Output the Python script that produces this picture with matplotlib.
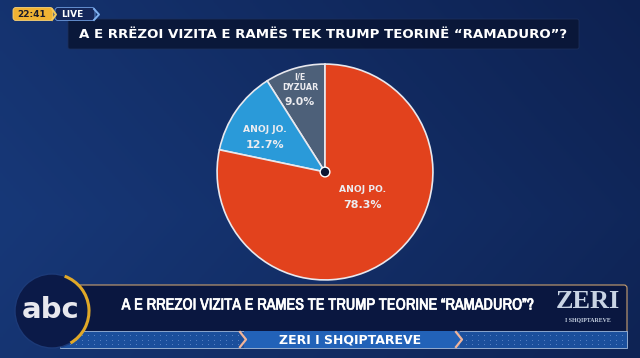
import matplotlib.pyplot as plt
import matplotlib.patches as mpatches
import matplotlib.patheffects as pe
from matplotlib import font_manager
import numpy as np

# poll results
categories = ["I/E\nDYZUAR", "ANOJ JO.", "ANOJ PO."]
values = [9.0, 12.7, 78.3]
colors = ["#4d6079", "#2a9ad9", "#e2421d"]

title = "A E RRËZOI VIZITA E RAMËS TEK TRUMP TEORINË “RAMADURO”?"
banner = "A E RREZOI VIZITA E RAMES TE TRUMP TEORINE “RAMADURO”?"
ticker = "ZERI I SHQIPTAREVE"

W, H = 640, 358
fig = plt.figure(figsize=(6.4, 3.58), dpi=100)

# background
bg = fig.add_axes([0, 0, 1, 1], zorder=0)
bg.set_xlim(0, W)
bg.set_ylim(H, 0)
bg.axis("off")
gx = np.linspace(0, 1, 200)
gy = np.linspace(0, 1, 120)
GX, GY = np.meshgrid(gx, gy)
t = np.clip(0.6 * GX + 0.3 * np.abs(GY - 0.6), 0, 1)
c0 = np.array([23, 56, 120]) / 255
c1 = np.array([11, 27, 70]) / 255
img = c0[None, None, :] * (1 - t[..., None]) + c1[None, None, :] * t[..., None]
bg.imshow(img, extent=[0, W, H, 0], aspect="auto")

# title box
bg.add_patch(mpatches.FancyBboxPatch((68, 19), 511, 30, boxstyle="round,pad=0,rounding_size=2",
                                     fc="#0a1738", ec="#1c2f5c", lw=0.6, alpha=0.95))
bg.text(323, 35, title, color="white", fontsize=9.6, fontweight="bold",
        ha="center", va="center")

# time / live badge
bg.add_patch(mpatches.FancyBboxPatch((13, 7.5), 40, 13, boxstyle="round,pad=0,rounding_size=3",
                                     fc="#f0b233", ec="#f7d27a", lw=0.6))
bg.text(32, 14.5, "22:41", color="#1a1a2a", fontsize=6.5, fontweight="bold", ha="center", va="center")
bg.add_patch(mpatches.FancyBboxPatch((55, 7.5), 40, 13, boxstyle="round,pad=0,rounding_size=3",
                                     fc="#15275a", ec="#6f9de0", lw=0.6))
bg.text(72, 14.5, "LIVE", color="white", fontsize=6.5, fontweight="bold", ha="center", va="center")
bg.plot([94, 99, 94], [9, 14.5, 20], color="#7fb0f0", lw=1.4)
bg.plot([52, 56, 52], [9, 14.5, 20], color="#f6c95a", lw=1.4)

# pie
cx, cy, r = 325, 172, 109
pax = fig.add_axes([(cx - r) / W, 1 - (cy + r) / H, 2 * r / W, 2 * r / H], zorder=1)
pax.pie(values, colors=colors, startangle=90, counterclock=True,
        wedgeprops=dict(edgecolor="#e8e8ee", linewidth=1.2))
pax.set_xlim(-1.01, 1.01)
pax.set_ylim(-1.01, 1.01)
pax.axis("off")
pax.add_patch(mpatches.Circle((0, 0), 0.045, fc="#0b1633", ec="white", lw=1.0, zorder=5))

# overlay
ov = fig.add_axes([0, 0, 1, 1], zorder=2)
ov.set_xlim(0, W)
ov.set_ylim(H, 0)
ov.axis("off")
ov.patch.set_alpha(0)

lab = "#ececf0"
ov.text(300, 77, "I/E", color=lab, fontsize=5.8, fontweight="bold", ha="center", va="center")
ov.text(300, 88, "DYZUAR", color=lab, fontsize=5.8, fontweight="bold", ha="center", va="center")
ov.text(300, 102, f"{values[0]:.1f}%", color=lab, fontsize=7.8, fontweight="bold", ha="center", va="center")
ov.text(265, 130, categories[1], color=lab, fontsize=6.6, fontweight="bold", ha="center", va="center")
ov.text(265, 145, f"{values[1]:.1f}%", color=lab, fontsize=8, fontweight="bold", ha="center", va="center")
ov.text(363, 190, categories[2], color=lab, fontsize=6.6, fontweight="bold", ha="center", va="center")
ov.text(363, 205, f"{values[2]:.1f}%", color=lab, fontsize=8, fontweight="bold", ha="center", va="center")

# bottom banner
ov.add_patch(mpatches.FancyBboxPatch((60, 285), 567, 63, boxstyle="round,pad=0,rounding_size=3",
                                     fc="#0a1740", ec="#c9a070", lw=0.8))
ov.add_patch(mpatches.Rectangle((60, 331), 567, 17, fc="#1b4f9c", ec="#9fb8dc", lw=0.6))
ov.add_patch(mpatches.Rectangle((244, 331), 216, 17, fc="#2262b8", ec="none"))
dx = np.arange(64, 624, 6)
for yy in (335, 339.5, 344):
    m = (dx < 240) | (dx > 464)
    ov.scatter(dx[m], np.full(m.sum(), yy), s=0.6, color="#5c86c8", lw=0)
ov.plot([240, 246, 240], [332, 339.5, 347], color="#f0b49a", lw=1.6)
ov.plot([456, 462, 456], [332, 339.5, 347], color="#f0b49a", lw=1.6)
ov.text(350, 340, ticker, color="white", fontsize=9, fontweight="bold", ha="center", va="center")

# narrow face for the banner if installed (thickened with a stroke), else shrink to fit
names = sorted({f.name for f in font_manager.fontManager.ttflist})
narrow = [n for n in names if "Narrow" in n or "Condensed" in n]
fam = [narrow[0], "DejaVu Sans"] if narrow else ["DejaVu Sans"]
bt = ov.text(327, 305, banner, color="white", fontsize=18, fontweight="bold",
             family=fam, ha="center", va="center",
             path_effects=[pe.withStroke(linewidth=0.5, foreground="white")])
rend = fig.canvas.get_renderer()
bw = bt.get_window_extent(rend).width
if bw > 412:
    bt.set_fontsize(18 * 412 / bw)

ov.text(588, 302, "ZERI", color="#c9d4e4", fontsize=19, fontweight="bold",
        family="Liberation Serif", ha="center", va="center")
ov.text(588, 320, "I SHQIPTAREVE", color="#c9d4e4", fontsize=4.2, fontweight="bold",
        family="Liberation Serif", ha="center", va="center")

# abc logo
ov.add_patch(mpatches.Circle((52, 311), 37, fc="#0b1a48", ec="#1c3a78", lw=1.0))
ov.add_patch(mpatches.Arc((52, 311), 74, 74, theta1=-70, theta2=60, color="#e0a828", lw=2.2))
ov.text(51, 310, "abc", color="#e8e8ee", fontsize=21, fontweight="bold", ha="center", va="center")

fig.savefig("out.png", dpi=100)
